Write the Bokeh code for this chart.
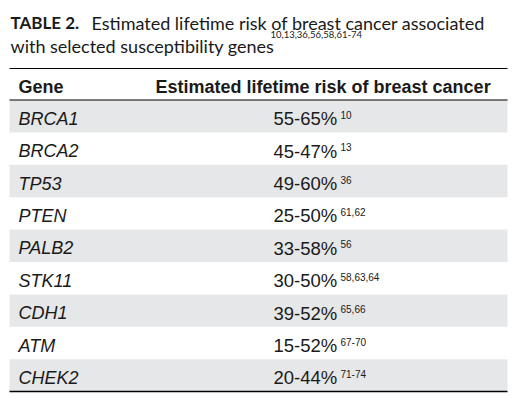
from bokeh.plotting import figure
from bokeh.models import Range1d, ColumnDataSource
from bokeh.core.properties import value
from bokeh.embed import file_html
from bokeh.resources import INLINE

title_bold = "TABLE 2."
title_line1 = "Estimated lifetime risk of breast cancer associated"
title_line2 = "with selected susceptibility genes"
title_refs = "10,13,36,56,58,61-74"
header_gene = "Gene"
header_risk = "Estimated lifetime risk of breast cancer"
genes = ["BRCA1", "BRCA2", "TP53", "PTEN", "PALB2", "STK11", "CDH1", "ATM", "CHEK2"]
risks = ["55-65%", "45-47%", "49-60%", "25-50%", "33-58%", "30-50%", "39-52%", "15-52%", "20-44%"]
refs = ["10", "13", "36", "61,62", "56", "58,63,64", "65,66", "67-70", "71-74"]

W, H = 510, 393
ROW_H = 32.4
TABLE_TOP = 99.5
X0, X1 = 9, 507
TXT = "#1a1a1a"
GRAY = "#e6e7e8"
BODY_FONT = value("Liberation Sans")
TITLE_FONT = value("Lato")

p = figure(width=W, height=H, output_backend="svg", toolbar_location=None, title=None,
           x_axis_type=None, y_axis_type=None,
           x_range=Range1d(0, W), y_range=Range1d(H, 0), min_border=0)
p.grid.visible = False
p.outline_line_color = None
p.background_fill_color = "white"
p.border_fill_color = "white"

n = len(genes)
tops = [TABLE_TOP + ROW_H * i for i in range(n)]
bottoms = [t + ROW_H for t in tops]

# striped rows
g_idx = [i for i in range(n) if i % 2 == 0]
p.quad(left=X0, right=X1, top=[tops[i] for i in g_idx], bottom=[bottoms[i] for i in g_idx],
       fill_color=GRAY, line_color=None)

# rules
p.segment(x0=[X0, X0], x1=[X1, X1], y0=[68, TABLE_TOP], y1=[68, TABLE_TOP],
          line_color="black", line_width=1.2)
p.segment(x0=[X0], x1=[X1], y0=[bottoms[-1]], y1=[bottoms[-1]],
          line_color="black", line_width=1.5)

src = ColumnDataSource(dict(
    gene=genes, risk=risks, ref=refs,
    ym=[t + 18.7 for t in tops], ys=[t + 14.8 for t in tops]))

p.text(x=18, y="ym", text="gene", source=src, text_font=BODY_FONT, text_font_size="18px",
       text_font_style="italic", text_color=TXT, text_baseline="middle")
p.text(x=273, y="ym", text="risk", source=src, text_font=BODY_FONT, text_font_size="18.5px",
       text_color=TXT, text_baseline="middle")
p.text(x=340, y="ys", text="ref", source=src, text_font=BODY_FONT, text_font_size="10px",
       text_color=TXT, text_baseline="middle")

# header
p.text(x=[18, 155], y=[86, 86], text=[header_gene, header_risk], text_font=BODY_FONT,
       text_font_size="18px", text_font_style="bold", text_color=TXT, text_baseline="middle")

# title
p.text(x=[10], y=[22], text=[title_bold], text_font=TITLE_FONT, text_font_size="17px",
       text_font_style="bold", text_color=TXT, text_baseline="middle")
p.text(x=[91, 10], y=[22, 45.5], text=[title_line1, title_line2], text_font=TITLE_FONT,
       text_font_size="18px", text_color=TXT, text_baseline="middle")
p.text(x=[270], y=[33.5], text=[title_refs], text_font=TITLE_FONT, text_font_size="9.5px",
       text_color=TXT, text_baseline="middle")

open("out.html", "w").write(file_html(p, INLINE))
